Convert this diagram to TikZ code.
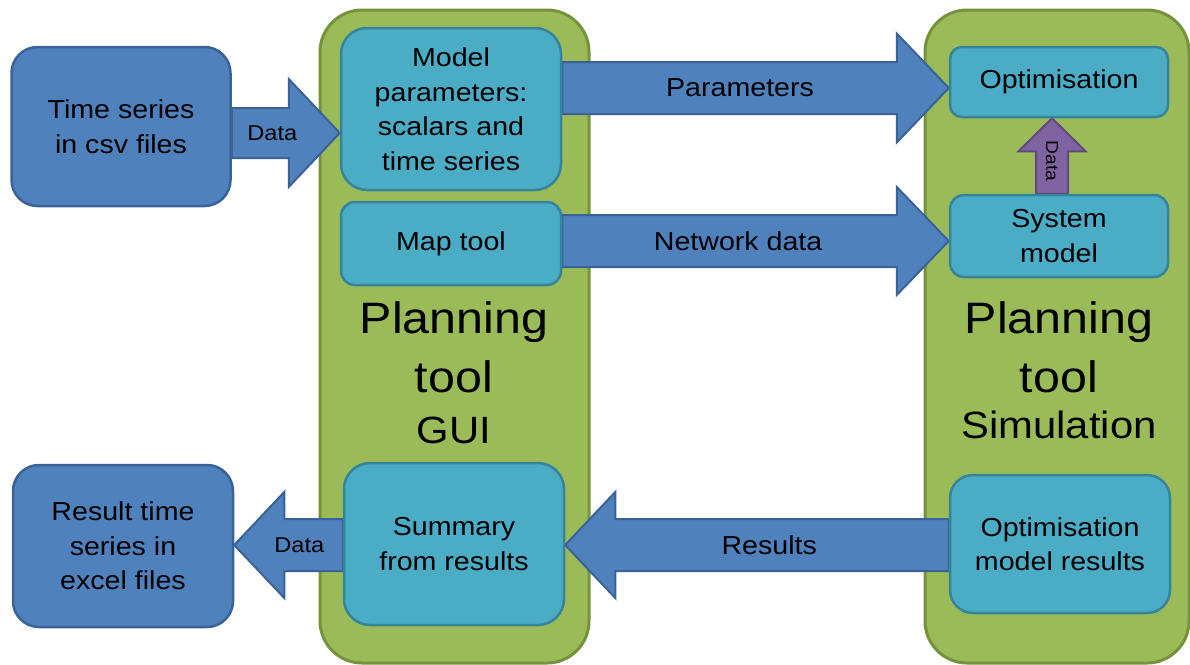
\documentclass[tikz,border=0pt]{standalone}
\usepackage{fontspec}
\setmainfont[FakeStretch=1.1]{Liberation Sans}
\usetikzlibrary{calc}
\pgfdeclarelayer{bg}
\pgfdeclarelayer{mid}
\pgfsetlayers{bg,mid,main}
\definecolor{dkblue}{HTML}{4F81BD}
\definecolor{dkblueline}{HTML}{3A6296}
\definecolor{cteal}{HTML}{4BACC6}
\definecolor{ctealline}{HTML}{35849A}
\definecolor{cgreen}{HTML}{9BBB59}
\definecolor{cgreenline}{HTML}{76923C}
\definecolor{cpurple}{HTML}{8064A2}
\definecolor{cpurpleline}{HTML}{5F4A7C}
\newcommand\boxfs{\fontsize{26}{34.5}\selectfont}
\newcommand\labfs{\fontsize{26}{30}\selectfont}
\newcommand\datafs{\fontsize{21.5}{24}\selectfont}
\newcommand\tinyfs{\fontsize{17.5}{20}\selectfont}
\newcommand\bigfs{\fontsize{44}{50}\selectfont}
\newcommand\midfs{\fontsize{38}{44}\selectfont}
% #1 arrow style, #2 start, #3 tip, #4 shaft half width, #5 head half width,
% #6 head length, #7 label position (fraction), #8 label style, #9 label text
\newcommand\fatarrow[9]{%
  \coordinate (fab) at ($(#3)!#6!(#2)$);
  \draw[#1] ($(#2)!#4!90:(#3)$) -- ($(fab)!#4!90:(#3)$) -- ($(fab)!#5!90:(#3)$)
    -- (#3) -- ($(fab)!#5!-90:(#3)$) -- ($(fab)!#4!-90:(#3)$)
    -- ($(#2)!#4!-90:(#3)$) -- cycle;
  \node[#8] at ($(#2)!#7!(#3)$) {#9};
}
\begin{document}
\begin{tikzpicture}[x=1pt,y=-1pt,
  container/.style={draw=cgreenline, fill=cgreen, line width=3pt, rounded corners=42pt, inner sep=0pt},
  darkbox/.style={draw=dkblueline, fill=dkblue, line width=2.5pt, rounded corners=26pt,
    inner sep=0pt, align=center, font=\boxfs, minimum width=219pt, minimum height=159pt},
  tealbox/.style={draw=ctealline, fill=cteal, line width=2.5pt, inner sep=0pt,
    align=center, font=\boxfs, minimum width=219pt},
  title/.style={anchor=base, font=\bigfs, inner sep=0pt},
  subtitle/.style={anchor=base, font=\midfs, inner sep=0pt},
  bluearrow/.style={draw=dkblueline, fill=dkblue, line width=2pt, line join=miter},
  purplearrow/.style={draw=cpurpleline, fill=cpurple, line width=2pt, line join=miter},
  lbl/.style={font=\labfs, inner sep=0pt, text=black}
]
\useasboundingbox (0,0) rectangle (1190,664);

% containers
\begin{pgfonlayer}{bg}
\node[container, minimum width=269pt, minimum height=653pt] (gui) at (454.5,336.5) {};
\node[container, minimum width=264pt, minimum height=653pt] (sim) at (1057,336.5) {};
\end{pgfonlayer}

% titles
\node[title] (guit1) at (454,333) {Planning};
\node[title] (guit2) at (454,392) {tool};
\node[subtitle] (guit3) at (454,443) {GUI};
\node[title] (simt1) at (1059,333) {Planning};
\node[title] (simt2) at (1059,392) {tool};
\node[subtitle] (simt3) at (1059,438) {Simulation};

% boxes
\node[darkbox] (ts) at (121,126.5) {Time series\\in csv files};
\node[darkbox, minimum width=220pt, minimum height=162pt] (res) at (123,546) {Result time\\series in\\excel files};
\node[tealbox, minimum width=220pt, minimum height=162pt, rounded corners=26pt] (mp) at (451,109)
  {Model\\parameters:\\scalars and\\time series};
\node[tealbox, minimum width=220pt, minimum height=83pt, rounded corners=14pt] (map) at (451,243.5) {Map tool};
\node[tealbox, minimum width=220pt, minimum height=162pt, rounded corners=26pt] (sum) at (454,544)
  {Summary\\from results};
\node[tealbox, minimum width=218pt, minimum height=70pt, rounded corners=12pt] (opt) at (1059,82) {Optimisation};
\node[tealbox, minimum width=218pt, minimum height=82pt, rounded corners=14pt] (sys) at (1059,236) {System\\model};
\node[tealbox, minimum width=220pt, minimum height=138pt, rounded corners=23pt] (omr) at (1060,544)
  {Optimisation\\model results};

% connectors
\path (0,133) coordinate (h1) (0,88) coordinate (h2) (0,241) coordinate (h3)
      (0,545) coordinate (h4) (1052,0) coordinate (v5);
\begin{pgfonlayer}{mid}
\fatarrow{bluearrow}{ts.east |- h1}{mp.west |- h1}{25pt}{54pt}{51pt}{0.375}{lbl,font=\datafs,name=l1}{Data}
\fatarrow{bluearrow}{mp.east |- h2}{opt.west |- h2}{26pt}{54.5pt}{52pt}{0.46}{lbl,name=l2}{Parameters}
\fatarrow{bluearrow}{map.east |- h3}{sys.west |- h3}{26pt}{54pt}{52pt}{0.455}{lbl,name=l3}{Network data}
\fatarrow{bluearrow}{omr.west |- h4}{sum.east |- h4}{26pt}{53pt}{50pt}{0.468}{lbl,name=l4}{Results}
\fatarrow{bluearrow}{sum.west |- h4}{res.east |- h4}{26pt}{53pt}{50pt}{0.40}{lbl,font=\datafs,name=l5}{Data}
\fatarrow{purplearrow}{sys.north -| v5}{opt.south -| v5}{16pt}{33.5pt}{33pt}{0.43}{lbl,font=\tinyfs,rotate=-90,name=l6}{Data}
\end{pgfonlayer}
\end{tikzpicture}
\end{document}
